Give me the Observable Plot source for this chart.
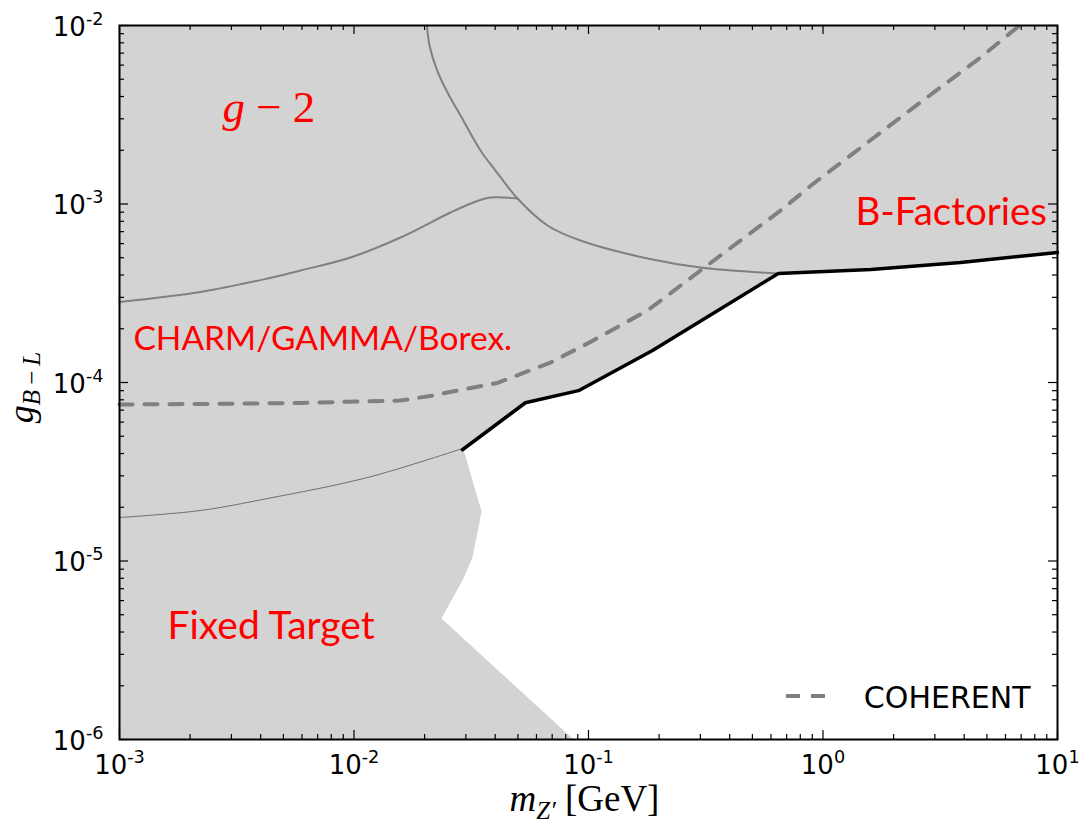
<!DOCTYPE html>
<html>
<head>
<meta charset="utf-8">
<script src="https://cdn.jsdelivr.net/npm/d3@7"></script>
<script src="https://cdn.jsdelivr.net/npm/@observablehq/plot@0.6"></script>
<style>
  body { margin: 0; background: #fff; }
  #chart { position: relative; width: 1081px; height: 828px; }
</style>
</head>
<body>
<div id="chart"></div>
<script>
// ---------------- data ----------------
// Combined lower limit (thick black line)
const limitMass     = [0.029, 0.0538, 0.0906, 0.1875, 0.645, 1.6, 3.86, 10];
const limitCoupling = [4.2e-5, 7.7e-5, 9.0e-5, 1.51e-4, 4.08e-4, 4.3e-4, 4.7e-4, 5.35e-4];

// Fixed-target exclusion edge (border of the white allowed region)
const fixedEdgeMass     = [0.0863, 0.0236, 0.0293, 0.0320, 0.0350, 0.0292];
const fixedEdgeCoupling = [1e-6, 4.76e-6, 7.98e-6, 1.046e-5, 1.894e-5, 4.27e-5];

// Corner that closes the allowed region
const cornerMass = [10];
const cornerCoupling = [1e-6];

// g-2 curve
const gm2Mass     = [0.02048, 0.02099, 0.02247, 0.02505, 0.02846, 0.03463, 0.04012, 0.0498, 0.06685, 0.09245, 0.1785, 0.3003, 0.6458];
const gm2Coupling = [1e-2, 7.73e-3, 5.74e-3, 4.21e-3, 3.13e-3, 1.994e-3, 1.54e-3, 1.073e-3, 7.58e-4, 6.24e-4, 4.95e-4, 4.41e-4, 4.08e-4];

// CHARM/GAMMA/Borexino curve
const charmMass     = [0.001, 0.002214, 0.004277, 0.005914, 0.009663, 0.01579, 0.02579, 0.03233, 0.03821, 0.0498];
const charmCoupling = [2.825e-4, 3.214e-4, 3.824e-4, 4.24e-4, 5.015e-4, 6.49e-4, 8.96e-4, 1.02e-3, 1.087e-3, 1.073e-3];

// Fixed-target thin curve
const fixedLineMass     = [0.001, 0.002214, 0.004277, 0.01142, 0.02903];
const fixedLineCoupling = [1.752e-5, 1.918e-5, 2.239e-5, 2.936e-5, 4.27e-5];

// COHERENT projection (dashed)
const coherentMass     = [0.001, 0.002214, 0.005914, 0.01579, 0.02183, 0.02505, 0.04091, 0.06887, 0.09902, 0.1785, 0.3003, 0.6588, 0.911, 2.432, 4.694, 6.887];
const coherentCoupling = [7.53e-5, 7.58e-5, 7.68e-5, 7.93e-5, 8.46e-5, 8.79e-5, 9.94e-5, 1.294e-4, 1.654e-4, 2.531e-4, 4.24e-4, 9.19e-4, 1.302e-3, 3.47e-3, 6.62e-3, 1e-2];

// Tick values and labels
const xTickValues = [1e-3, 1e-2, 1e-1, 1, 10];
const xTickLabels = ["10^-3", "10^-2", "10^-1", "10^0", "10^1"];
const yTickValues = [1e-6, 1e-5, 1e-4, 1e-3, 1e-2];
const yTickLabels = ["10^-6", "10^-5", "10^-4", "10^-3", "10^-2"];

// Region labels (text) and their anchor points (data coordinates)
const bfacLabel = ["B-Factories"];       const bfacMass = [1.376];     const bfacCoupling = [8.94e-4];
const charmLabel = ["CHARM/GAMMA/Borex."]; const charmLabelMass = [1.147e-3]; const charmLabelCoupling = [1.737e-4];
const fixedLabel = ["Fixed Target"];     const fixedLabelMass = [1.602e-3]; const fixedLabelCoupling = [4.28e-6];
const gm2LabelText = ["g − 2"];          const gm2LabelMass = [0.002749];  const gm2LabelCoupling = [3.49e-3];

const xTitle = "m_{Z'} [GeV]";
const yTitle = "g_{B-L}";
const legendLabel = "COHERENT";

// ---------------- build ----------------
const zip = (xs, ys) => xs.map((x, i) => ({x, y: ys[i]}));
const label = (ts, xs, ys) => ts.map((t, i) => ({t, x: xs[i], y: ys[i]}));
const limit = zip(limitMass, limitCoupling);
const allowedRegion = [
  ...zip(fixedEdgeMass, fixedEdgeCoupling),
  ...limit,
  ...zip(cornerMass, cornerCoupling)
];
const gm2 = zip(gm2Mass, gm2Coupling);
const charm = zip(charmMass, charmCoupling);
const fixedLine = zip(fixedLineMass, fixedLineCoupling);
const coherent = zip(coherentMass, coherentCoupling);
const xTicks = xTickValues.map((v, i) => ({v, label: xTickLabels[i]}));
const yTicks = yTickValues.map((v, i) => ({v, label: yTickLabels[i]}));

const W = 1081, H = 828;
const mT = 25, mR = 24, mB = 89, mL = 119;
const frameW = W - mL - mR, frameH = H - mT - mB;
const majorLen = 9, minorLen = 5;

const isPow10 = v => Math.abs(Math.log10(v) - Math.round(Math.log10(v))) < 1e-9;
const xMinor = d3.scaleLog().domain([1e-3, 10]).ticks().filter(v => !isPow10(v));
const yMinor = d3.scaleLog().domain([1e-6, 1e-2]).ticks().filter(v => !isPow10(v));

const tickStyle = {stroke: "black", strokeWidth: 1.2};
const tickFont = "DejaVu Sans";
const redText = {x: "x", y: "y", text: "t", textAnchor: "start", lineAnchor: "middle", fontFamily: "Lato", fill: "red"};

const plot = Plot.plot({
  width: W, height: H,
  marginTop: mT, marginRight: mR, marginBottom: mB, marginLeft: mL,
  x: {type: "log", domain: [1e-3, 10], axis: null},
  y: {type: "log", domain: [1e-6, 1e-2], axis: null},
  style: {background: "white", overflow: "visible"},
  marks: [
    Plot.frame({fill: "#d3d3d3", stroke: "none"}),
    Plot.line(allowedRegion, {x: "x", y: "y", fill: "white", stroke: "none"}),
    Plot.line(gm2, {x: "x", y: "y", stroke: "#808080", strokeWidth: 2, curve: "catmull-rom"}),
    Plot.line(charm, {x: "x", y: "y", stroke: "#808080", strokeWidth: 2, curve: "catmull-rom"}),
    Plot.line(fixedLine, {x: "x", y: "y", stroke: "#6e6e6e", strokeWidth: 1, curve: "catmull-rom"}),
    Plot.line(coherent, {x: "x", y: "y", stroke: "#808080", strokeWidth: 4, strokeDasharray: "13,12"}),
    Plot.line(limit, {x: "x", y: "y", stroke: "black", strokeWidth: 3.5}),

    // inward ticks on all four sides
    Plot.tickX(xTickValues, {x: d => d, insetTop: frameH - majorLen, ...tickStyle}),
    Plot.tickX(xTickValues, {x: d => d, insetBottom: frameH - majorLen, ...tickStyle}),
    Plot.tickX(xMinor, {x: d => d, insetTop: frameH - minorLen, ...tickStyle}),
    Plot.tickX(xMinor, {x: d => d, insetBottom: frameH - minorLen, ...tickStyle}),
    Plot.tickY(yTickValues, {y: d => d, insetRight: frameW - majorLen, ...tickStyle}),
    Plot.tickY(yTickValues, {y: d => d, insetLeft: frameW - majorLen, ...tickStyle}),
    Plot.tickY(yMinor, {y: d => d, insetRight: frameW - minorLen, ...tickStyle}),
    Plot.tickY(yMinor, {y: d => d, insetLeft: frameW - minorLen, ...tickStyle}),

    Plot.frame({stroke: "black", strokeWidth: 2}),

    // tick labels
    Plot.text(xTicks, {x: "v", text: "label", frameAnchor: "bottom", textAnchor: "middle", lineAnchor: "middle",
      dy: 26, fontSize: 26, fontFamily: tickFont, fill: "black"}),
    Plot.text(yTicks, {y: "v", text: "label", frameAnchor: "left", textAnchor: "end", lineAnchor: "middle",
      dx: -16, dy: 2, fontSize: 26, fontFamily: tickFont, fill: "black"}),

    // axis titles
    Plot.text([xTitle], {text: d => d, frameAnchor: "bottom", textAnchor: "middle", lineAnchor: "middle",
      dx: -4, dy: 59.5, fontSize: 37, fontFamily: "Liberation Serif", fill: "black"}),
    Plot.text([yTitle], {text: d => d, frameAnchor: "left", textAnchor: "middle", lineAnchor: "middle", rotate: -90,
      dx: -98.5, dy: 5, fontSize: 36, fontFamily: "Liberation Serif", fill: "black"}),

    // region labels
    Plot.text(label(bfacLabel, bfacMass, bfacCoupling), {...redText, fontSize: 38.5}),
    Plot.text(label(charmLabel, charmLabelMass, charmLabelCoupling), {...redText, fontSize: 33.5}),
    Plot.text(label(fixedLabel, fixedLabelMass, fixedLabelCoupling), {...redText, fontSize: 39}),
    Plot.text(label(gm2LabelText, gm2LabelMass, gm2LabelCoupling), {...redText, fontSize: 45, fontFamily: "Liberation Serif"}),

    // legend label
    Plot.text([legendLabel], {text: d => d, frameAnchor: "bottom-right", textAnchor: "end", lineAnchor: "middle",
      dx: -27, dy: -41.6, fontSize: 30, fontFamily: tickFont, fill: "black"})
  ]
});

const svg = d3.select(plot);

svg.selectAll("text").each(function () {
  const s = this.textContent;
  const t = d3.select(this);
  if (/^10\^/.test(s)) {
    const [base, exp] = s.split("^");
    t.text(null);
    t.append("tspan").text(base);
    t.append("tspan").attr("font-size", "0.68em").attr("dy", "-0.62em").text(exp);
  } else if (s === xTitle) {
    t.text(null);
    t.append("tspan").attr("font-style", "italic").text("m");
    t.append("tspan").attr("font-style", "italic").attr("font-size", 25).attr("dy", 8).text("Z′");
    t.append("tspan").attr("dy", -8).text("\u00a0[GeV]");
  } else if (s === yTitle) {
    t.text(null);
    t.append("tspan").attr("font-style", "italic").text("g");
    t.append("tspan").attr("font-style", "italic").attr("font-size", 25).attr("dy", 7).text("B");
    t.append("tspan").attr("font-size", 25).text("\u2009−\u2009");
    t.append("tspan").attr("font-style", "italic").attr("font-size", 25).text("L");
  } else if (s === gm2LabelText[0]) {
    t.text(null);
    t.append("tspan").attr("font-style", "italic").text("g");
    t.append("tspan").text("\u00a0−\u00a02");
  }
});

// legend swatch
svg.append("line")
  .attr("x1", 786).attr("x2", 825).attr("y1", 696).attr("y2", 696)
  .attr("stroke", "#808080").attr("stroke-width", 4).attr("stroke-dasharray", "14,11");

document.getElementById("chart").appendChild(plot);
</script>
</body>
</html>
